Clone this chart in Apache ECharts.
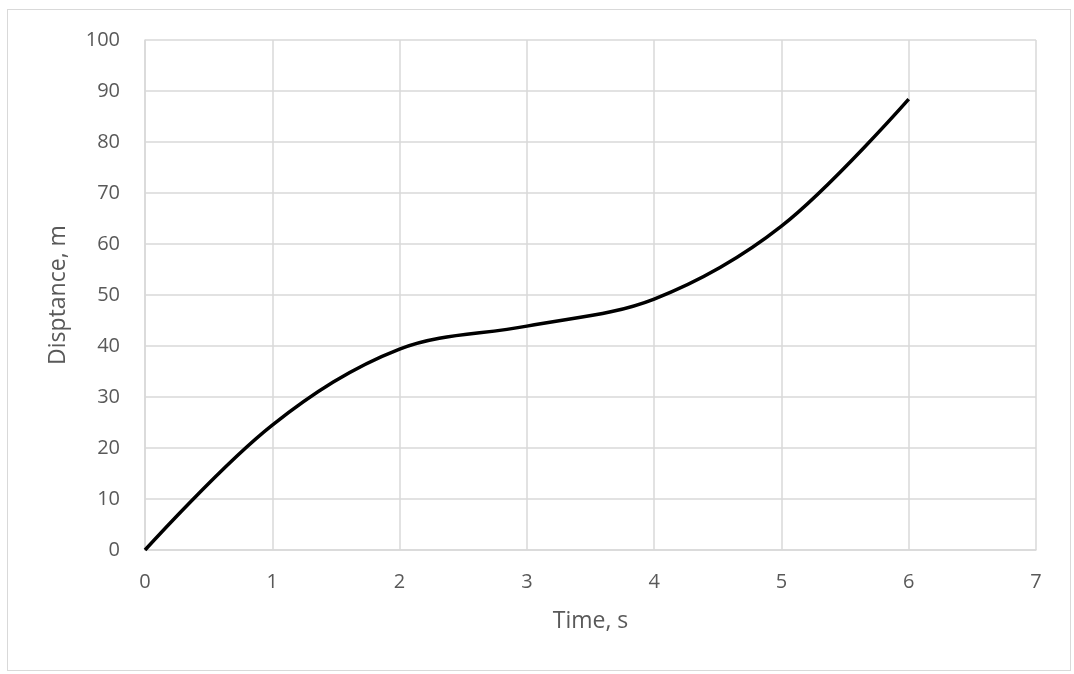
<!DOCTYPE html>
<html>
<head>
<meta charset="utf-8">
<script src="https://cdn.jsdelivr.net/npm/echarts@6/dist/echarts.min.js"></script>
<style>
  html, body { margin: 0; padding: 0; background: #fff; }
  #frame { position: absolute; left: 7px; top: 9px; width: 1064px; height: 662px; border: 1px solid #d9d9d9; box-sizing: border-box; }
  #chart { width: 1074px; height: 674px; }
</style>
</head>
<body>
<div id="frame"></div>
<div id="chart"></div>
<script>
// time in seconds and distance
const times = [0, 1, 2, 3, 4, 5, 6];
const distances = [0, 24.5, 39.4, 43.9, 49.2, 63.5, 88.4];

const chart = echarts.init(document.getElementById('chart'));

const labelStyle = { color: '#595959', fontSize: 20, fontFamily: 'Open Sans' };
const nameStyle = { color: '#595959', fontSize: 23, fontFamily: 'Open Sans' };

chart.setOption({
  animation: false,
  grid: { left: 145, right: 38, top: 40, bottom: 124 },
  xAxis: {
    type: 'value',
    min: 0, max: 7, interval: 1,
    name: 'Time, s',
    nameLocation: 'middle',
    nameGap: 60,
    nameTextStyle: nameStyle,
    axisLine: { show: true, lineStyle: { color: '#d9d9d9', width: 1.5 } },
    axisTick: { show: false },
    axisLabel: Object.assign({ margin: 22 }, labelStyle),
    splitLine: { show: true, lineStyle: { color: '#d9d9d9', width: 1.5 } }
  },
  yAxis: {
    type: 'value',
    min: 0, max: 100, interval: 10,
    name: 'Disptance, m',
    nameLocation: 'middle',
    nameGap: 75,
    nameTextStyle: nameStyle,
    axisLine: { show: true, lineStyle: { color: '#d9d9d9', width: 1.5 } },
    axisTick: { show: false },
    axisLabel: Object.assign({ margin: 25 }, labelStyle),
    splitLine: { show: true, lineStyle: { color: '#d9d9d9', width: 1.5 } }
  },
  series: [{
    type: 'line',
    data: times.map((t, i) => [t, distances[i]]),
    smooth: 0.35,
    showSymbol: false,
    lineStyle: { color: '#000', width: 3.5 }
  }]
});
</script>
</body>
</html>
